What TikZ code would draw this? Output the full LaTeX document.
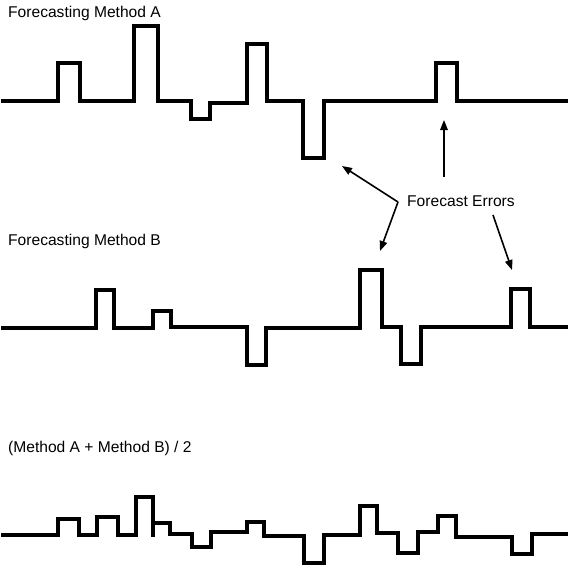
\documentclass[tikz,border=0pt]{standalone}
\usepackage{fontspec}
\setmainfont{Liberation Sans}
\usetikzlibrary{arrows.meta}
\begin{document}
\begin{tikzpicture}[x=1pt,y=-1pt,
  wave/.style={line width=3.2pt,line join=miter,black},
  lbl/.style={anchor=base west,inner sep=0pt,font=\fontsize{15.6}{18}\selectfont},
  errarrow/.style={line width=1.6pt,-{Triangle[length=10pt,width=7.5pt]}}]
\useasboundingbox (0,0) rectangle (573,565);
% labels
\node[lbl] (la) at (8,17) {Forecasting Method A};
\node[lbl] (lb) at (8,245) {Forecasting Method B};
\node[lbl] (lc) at (8,452) {(Method A + Method B) / 2};
\node[lbl] (err) at (407,206.5) {Forecast Errors};
% waveforms
\draw[wave] (1,101) -- (58,101) -- (58,63) -- (80,63) -- (80,101) -- (134,101) -- (134,26) -- (158,26) -- (158,101) -- (191,101) -- (191,119) -- (210,119) -- (210,103) -- (247,103) -- (247,44) -- (267,44) -- (267,101) -- (303,101) -- (303,158) -- (324,158) -- (324,101) -- (436,101) -- (436,63) -- (457,63) -- (457,101) -- (568,101);
\draw[wave] (1,328) -- (96,328) -- (96,290) -- (114,290) -- (114,328) -- (153,328) -- (153,311) -- (171,311) -- (171,327) -- (247,327) -- (247,365) -- (266,365) -- (266,328) -- (360,328) -- (360,270) -- (382,270) -- (382,327) -- (401,327) -- (401,364) -- (421,364) -- (421,327) -- (511,327) -- (511,289) -- (530,289) -- (530,327) -- (568,327);
\draw[wave] (1,535) -- (58,535) -- (58,519) -- (79,519) -- (79,535) -- (97,535) -- (97,517) -- (118,517) -- (118,535) -- (136,535) -- (136,497) -- (153,497) -- (153,537) (153,523) -- (170,523) -- (170,534) -- (192,534) -- (192,547) -- (211,547) -- (211,532) -- (247,532) -- (247,522) -- (264,522) -- (264,536) -- (304,536) -- (304,563) -- (324,563) -- (324,535) -- (360,535) -- (360,506) -- (377,506) -- (377,533) -- (398,533) -- (398,553) -- (418,553) -- (418,532) -- (438,532) -- (438,516) -- (456,516) -- (456,537) -- (512,537) -- (512,554) -- (532,554) -- (532,534) -- (568,534);
% arrows
\coordinate (upstart) at (444,177);
\coordinate (uptip) at (444,120);
\coordinate (junc) at (398,202);
\coordinate (diptip) at (342,166);
\coordinate (btip) at (380,251);
\coordinate (rstart) at (493,215);
\coordinate (rtip) at (512,270);
\draw[errarrow] (upstart) -- (uptip);
\draw[errarrow] (junc) -- (diptip);
\draw[errarrow] (junc) -- (btip);
\draw[errarrow] (rstart) -- (rtip);
\end{tikzpicture}
\end{document}
